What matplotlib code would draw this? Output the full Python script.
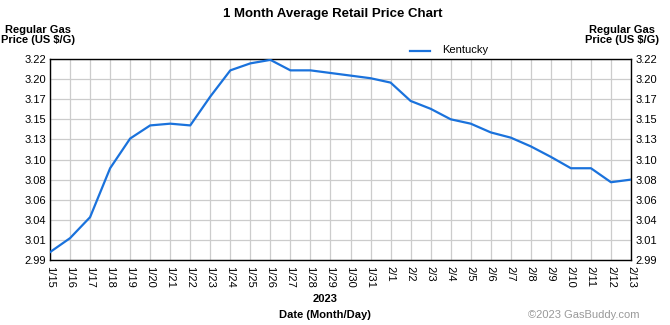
import matplotlib.pyplot as plt
from matplotlib.lines import Line2D

plt.rcParams['font.family'] = ['Liberation Sans', 'DejaVu Sans']

# 1 month of daily average regular gas prices, Kentucky
dates = ["1/15", "1/16", "1/17", "1/18", "1/19", "1/20", "1/21", "1/22", "1/23", "1/24",
         "1/25", "1/26", "1/27", "1/28", "1/29", "1/30", "1/31", "2/1", "2/2", "2/3",
         "2/4", "2/5", "2/6", "2/7", "2/8", "2/9", "2/10", "2/11", "2/12", "2/13"]
prices = [2.999, 3.015, 3.039, 3.095, 3.129, 3.144, 3.146, 3.144, 3.177, 3.207,
          3.215, 3.219, 3.207, 3.207, 3.204, 3.201, 3.198, 3.193, 3.172, 3.163,
          3.151, 3.146, 3.136, 3.130, 3.120, 3.108, 3.095, 3.095, 3.079, 3.082]
y_min, y_max = 2.99, 3.22
y_labels = ["2.99", "3.01", "3.04", "3.06", "3.08", "3.10", "3.13", "3.15", "3.17", "3.20", "3.22"]

line_color = "#1a72dc"

fig = plt.figure(figsize=(6.7, 3.25), dpi=100)
ax = fig.add_axes([50 / 670, 1 - 260 / 325, 581 / 670, 201 / 325])

x = list(range(len(dates)))
ax.plot(x, prices, color=line_color, lw=1.6, solid_joinstyle="round", zorder=3)

ax.set_xlim(0, len(dates) - 1)
ax.set_ylim(y_min, y_max)
ax.set_xticks(x)
ax.set_xticklabels(dates, rotation=-90, fontsize=8)
step = (y_max - y_min) / (len(y_labels) - 1)
ax.set_yticks([y_min + i * step for i in range(len(y_labels))])
ax.set_yticklabels(y_labels, fontsize=8)
ax.tick_params(length=0, pad=3, labelright=True)
ax.tick_params(axis="x", pad=4)
ax.grid(True, color="#cccccc", lw=0.9)
for sp in ax.spines.values():
    sp.set_color("black")
    sp.set_linewidth(1)

# titles and axis captions
fig.text(333 / 670, 1 - 14 / 325, "1 Month Average Retail Price Chart",
         ha="center", va="center", fontsize=9.5, fontweight="bold")
fig.text(38 / 670, 1 - 35 / 325, "Regular Gas\nPrice (US $/G)", ha="center", va="center",
         fontsize=8, fontweight="bold", linespacing=1.05)
fig.text(622 / 670, 1 - 35 / 325, "Regular Gas\nPrice (US $/G)", ha="center", va="center",
         fontsize=8, fontweight="bold", linespacing=1.05)
fig.text(325 / 670, 1 - 299 / 325, "2023", ha="center", va="center",
         fontsize=8, fontweight="bold")
fig.text(325 / 670, 1 - 315 / 325, "Date (Month/Day)", ha="center", va="center",
         fontsize=8, fontweight="bold")
fig.text(640 / 670, 1 - 315 / 325, "\u00a92023 GasBuddy.com", ha="right", va="center",
         fontsize=8, color="#999999")

# legend
fig.add_artist(Line2D([410 / 670, 430 / 670], [1 - 51 / 325, 1 - 51 / 325],
                      color=line_color, lw=1.6))
fig.text(442 / 670, 1 - 50 / 325, "Kentucky", ha="left", va="center", fontsize=8)

fig.savefig("out.png", dpi=100)
